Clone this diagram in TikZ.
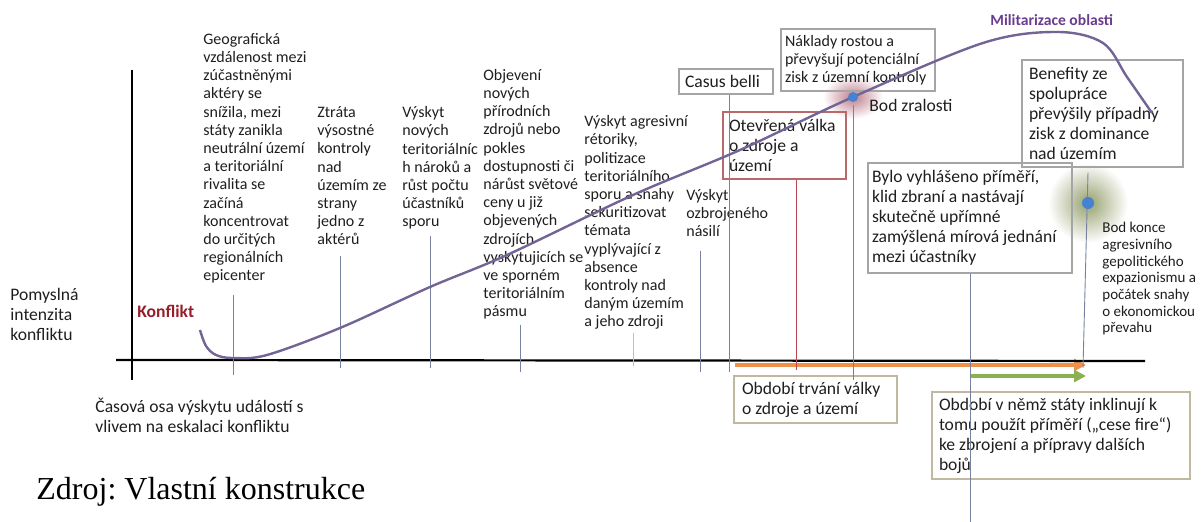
\documentclass[tikz,border=0pt]{standalone}
\usepackage{fontspec}
\setmainfont{Carlito}
\newfontfamily\srcfont{Liberation Serif}
\usetikzlibrary{arrows.meta}
\frenchspacing

\definecolor{curvecol}{RGB}{115,100,150}
\definecolor{tickcol}{RGB}{120,130,160}
\definecolor{ticklight}{RGB}{190,190,200}
\definecolor{tickred}{RGB}{185,70,80}
\definecolor{boxgray}{RGB}{165,165,165}
\definecolor{boxred}{RGB}{185,105,105}
\definecolor{boxolive}{RGB}{190,185,160}
\definecolor{warorange}{RGB}{237,145,75}
\definecolor{ceasegreen}{RGB}{140,175,80}
\definecolor{konfred}{RGB}{150,30,40}
\definecolor{milpurple}{RGB}{105,60,145}
\definecolor{dotblue}{RGB}{70,130,210}
\definecolor{halopink}{RGB}{190,125,140}
\definecolor{halogreen}{RGB}{150,160,110}
\definecolor{textcol}{RGB}{30,30,30}

\newcommand{\smallfnt}{\fontsize{8}{9.1}\selectfont}
\newcommand{\midfnt}{\fontsize{8.8}{10}\selectfont}
\newcommand{\tinyfnt}{\fontsize{7.5}{8.35}\selectfont}

% texts are placed by the baseline of their last line
\tikzset{
  evtext/.style={font=\smallfnt, text=textcol, align=left, inner sep=0pt,
    anchor=base west},
  axtext/.style={evtext, font=\midfnt},
  infobox/.style={draw=boxgray, line width=0.6pt, font=\midfnt, text=textcol,
    align=flush left, inner xsep=1pt, inner ysep=0pt},
  tick/.style={draw=tickcol, line width=0.45pt},
  axis/.style={line width=1.1pt},
  curve/.style={draw=curvecol, line width=1.2pt},
  dot/.style={circle, fill=dotblue, inner sep=0pt},
  period/.style={line width=2pt, -{Triangle[length=6pt,width=6pt]}}
}

\begin{document}
\begin{tikzpicture}[x=0.5pt,y=-0.5pt]
\useasboundingbox (0,0) rectangle (1201,522);

% glow round the two points
\coordinate (zralc) at (853,97);
\coordinate (konecc) at (1088,203);
\shade[inner color=halopink, outer color=white] (zralc) ellipse [x radius=15pt, y radius=11pt];
\shade[inner color=halogreen, outer color=white] (konecc) ellipse [x radius=20pt, y radius=20pt];

% periods under the axis
\coordinate (wars) at (735,365);
\coordinate (ware) at (1086,365);
\coordinate (cfs) at (970,376);
\coordinate (cfe) at (1086,376);
\draw[period, warorange] (wars) -- (ware);
\draw[period, ceasegreen] (cfs) -- (cfe);

% events
\node[evtext] (geo) at (203,281) {Geografická\\vzdálenost mezi\\zúčastněnými\\aktéry se\\snížila, mezi\\státy zanikla\\neutrální území\\a teritoriální\\rivalita se\\začíná\\koncentrovat\\do určitých\\regionálních\\epicenter};
\node[evtext] (ztrata) at (317,245) {Ztráta\\výsostné\\kontroly\\nad\\územím ze\\strany\\jedno z\\aktérů};
\node[evtext] (naroky) at (402,227) {Výskyt\\nových\\teritoriálníc\\h nároků a\\růst počtu\\účastníků\\sporu};
\node[evtext] (zdroje) at (483,317) {Objevení\\nových\\přírodních\\zdrojů nebo\\pokles\\dostupnosti či\\nárůst světové\\ceny u již\\objevených\\zdrojích\\vyskytujicích se\\ve sporném\\teritoriálním\\pásmu};
\node[evtext] (retorika) at (584,327) {Výskyt agresivní\\rétoriky,\\politizace\\teritoriálního\\sporu a snahy\\sekuritizovat\\témata\\vyplývající z\\absence\\kontroly nad\\daným územím\\a jeho zdroji};
\node[evtext] (nasili) at (686,237) {Výskyt\\ozbrojeného\\násilí};

% boxes
\node[infobox, minimum width=47pt, minimum height=12.5pt, text width=41pt] (casus) at (726,81.5) {Casus belli};
\node[infobox, font=\smallfnt, minimum width=77pt, minimum height=31pt, text width=73pt] (naklady) at (858,60) {Náklady rostou a\\převyšují potenciální\\zisk z územní kontroly};
\node[infobox, draw=boxred, minimum width=61.5pt, minimum height=33.5pt, text width=55.5pt] (valka) at (784.5,145.5) {Otevřená válka\\o zdroje a\\území};
\node[infobox, minimum width=80.5pt, minimum height=53.5pt, text width=73.5pt] (benefity) at (1102.5,113.5) {Benefity ze\\spolupráce\\převýšily případný\\zisk z dominance\\nad územím};
\node[infobox, minimum width=102pt, minimum height=55pt, text width=98pt] (primeri) at (970,218) {Bylo vyhlášeno příměří,\\klid zbraní a nastávají\\skutečně upřímné\\zamýšlená mírová jednání\\mezi účastníky};
\node[infobox, draw=boxolive, minimum width=81.5pt, minimum height=23.5pt, text width=73.5pt] (trvani) at (815.5,399.5) {Období trvání války\\o zdroje a území};
\node[infobox, draw=boxolive, minimum width=129pt, minimum height=43.5pt, text width=122pt] (zbrojeni) at (1061,435.5) {Období v němž státy inklinují k\\tomu použít příměří („cese fire“)\\ke zbrojení a přípravy dalších\\bojů};

% other texts
\node[axtext] (bodtxt) at (869,112) {Bod zralosti};
\node[evtext, font=\tinyfnt] (konec) at (1102,333) {Bod konce\\agresivního\\gepolitického\\expazionismu a\\počátek snahy\\o ekonomickou\\převahu};
\node[evtext, font=\bfseries\fontsize{7.8}{9}\selectfont, text=milpurple] (milit) at (990,26) {Militarizace oblasti};
\node[axtext, font=\bfseries\midfnt, text=konfred] (konflikt) at (137,318) {Konflikt};
\node[axtext] (intenz) at (10,341) {Pomyslná\\intenzita\\konfliktu};
\node[axtext] (osa) at (95,433) {Časová osa výskytu událostí s\\vlivem na eskalaci konfliktu};
\node[font=\srcfont\fontsize{16}{19}\selectfont, anchor=base west, inner sep=0pt] (zdroj) at (36,500) {Zdroj: Vlastní konstrukce};

% axes
\coordinate (xa) at (116,360);
\coordinate (xb) at (1145,361);
\coordinate (ya) at (132,70);
\coordinate (yb) at (132,380);
\draw[axis] (xa) -- (xb);
\draw[axis] (ya) -- (yb);

% ticks down to the time axis
\coordinate (e1) at (233,375);
\coordinate (e2) at (340,368);
\coordinate (e3) at (430,368);
\coordinate (e4) at (520,372);
\coordinate (e5) at (633,366);
\coordinate (e6) at (700,372);
\coordinate (e7) at (729,372);
\coordinate (e8) at (796,370);
\coordinate (e9) at (853,380);
\coordinate (e10) at (970,522);
\coordinate (e11) at (1083,368);
\draw[tick] (geo.south -| e1) ++(0,11) -- (e1);
\draw[tick] (ztrata.south -| e2) ++(0,10) -- (e2);
\draw[tick] (naroky.south -| e3) ++(0,6) -- (e3);
\draw[tick] (zdroje.south -| e4) ++(0,5) -- (e4);
\draw[tick, ticklight] (retorika.south -| e5) ++(0,3) -- (e5);
\draw[tick] (nasili.south -| e6) ++(0,13) -- (e6);
\draw[tick] (casus.south -| e7) -- (e7);
\draw[tick, tickred] (valka.south -| e8) -- (e8);
\draw[tick] ([yshift=-4pt]zralc) -- (e9);
\draw[tick] (primeri.south -| e10) -- (e10);
\draw[tick] (benefity.south -| konecc) ++(0,5) -- (e11);

% intensity curve
\draw[curve] plot[smooth, tension=0.55] coordinates {(200,330) (206,346) (216,355) (233,358) (267,355) (340,328) (430,287) (507,255) (633,195) (740,150) (853,97) (983,43) (1057,32) (1103,43) (1127,77) (1152,113)};

\node[dot, minimum size=5pt] (zral) at (zralc) {};
\node[dot, minimum size=6pt] (konecdot) at (konecc) {};
\end{tikzpicture}
\end{document}
